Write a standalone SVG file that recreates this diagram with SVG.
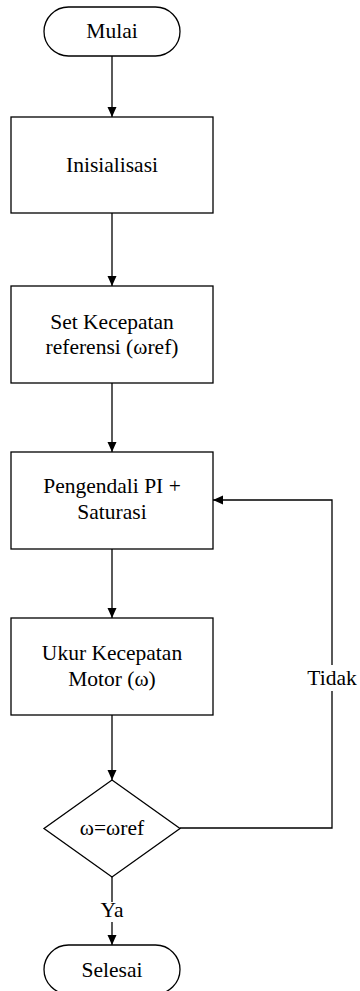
<svg xmlns="http://www.w3.org/2000/svg" width="360" height="991" viewBox="0 0 360 991">
<defs>
<style>
.shape{fill:#fff;stroke:#000;stroke-width:1.3}
.line{fill:none;stroke:#000;stroke-width:1.3}
.t{font-size:21.5px;fill:#000;text-anchor:middle}
</style>
<marker id="arr" markerWidth="10" markerHeight="10" refX="10" refY="5" orient="auto" markerUnits="userSpaceOnUse">
<path d="M0,0.5 L10,5 L0,9.5 Z" fill="#000"/>
</marker>
</defs>
<rect width="360" height="991" fill="#fff"/>
<g font-family="'Liberation Serif', 'Times New Roman', Times, 'DejaVu Serif', serif">
<g id="connectors">
<line class="line" x1="112" y1="56" x2="112" y2="117" marker-end="url(#arr)"/>
<line class="line" x1="112" y1="213" x2="112" y2="286" marker-end="url(#arr)"/>
<line class="line" x1="112" y1="383" x2="112" y2="452" marker-end="url(#arr)"/>
<line class="line" x1="112" y1="549" x2="112" y2="618" marker-end="url(#arr)"/>
<line class="line" x1="112" y1="715" x2="112" y2="780" marker-end="url(#arr)"/>
<line class="line" x1="112" y1="877" x2="112" y2="902"/>
<line class="line" x1="112" y1="922" x2="112" y2="945" marker-end="url(#arr)"/>
<polyline class="line" points="180,828 332,828 332,691"/>
<polyline class="line" points="332,665 332,500 213,500" marker-end="url(#arr)"/>
<text class="t" x="112" y="917">Ya</text>
<text class="t" x="332" y="685">Tidak</text>
</g>
<g id="mulai">
<rect class="shape" x="44" y="7" width="136" height="49" rx="24.5" ry="24.5"/>
<text class="t" x="112" y="38">Mulai</text>
</g>
<g id="inisialisasi">
<rect class="shape" x="11" y="117" width="202" height="96"/>
<text class="t" x="112" y="172">Inisialisasi</text>
</g>
<g id="set-kecepatan">
<rect class="shape" x="11" y="286" width="202" height="97"/>
<text class="t" x="112" y="329">Set Kecepatan</text>
<text class="t" x="112" y="354">referensi (ωref)</text>
</g>
<g id="pengendali">
<rect class="shape" x="11" y="452" width="202" height="97"/>
<text class="t" x="112" y="493">Pengendali PI +</text>
<text class="t" x="112" y="519">Saturasi</text>
</g>
<g id="ukur">
<rect class="shape" x="11" y="618" width="202" height="97"/>
<text class="t" x="112" y="660">Ukur Kecepatan</text>
<text class="t" x="112" y="686">Motor (ω)</text>
</g>
<g id="keputusan">
<polygon class="shape" points="112,780 180,828.5 112,877 44,828.5"/>
<text class="t" x="112" y="835">ω=ωref</text>
</g>
<g id="selesai">
<rect class="shape" x="44" y="945" width="136" height="49" rx="24.5" ry="24.5"/>
<text class="t" x="112" y="977">Selesai</text>
</g>
</g>
</svg>
